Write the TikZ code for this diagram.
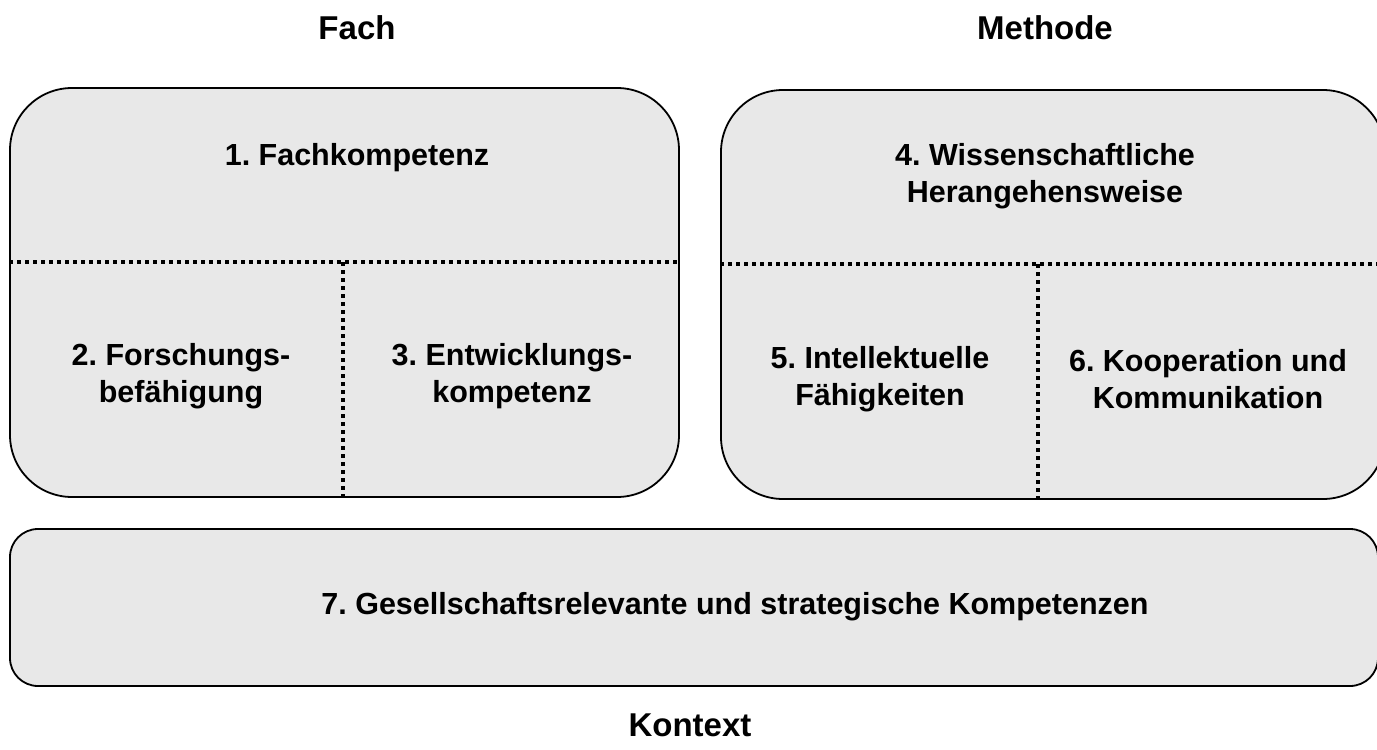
\documentclass[tikz,border=0pt]{standalone}
\usepackage{fontspec}
\setmainfont{Liberation Sans}
\usetikzlibrary{positioning}
\definecolor{boxgray}{HTML}{E8E8E8}
\frenchspacing

\begin{document}
\begin{tikzpicture}[x=1pt,y=-1pt,
      every node/.style={font=\fontsize{30.5}{37}\selectfont\bfseries,align=center},
      area/.style={draw,line width=1.8pt,fill=boxgray,rounded corners=62pt,inner sep=0pt},
      head/.style={font=\fontsize{33}{40}\selectfont\bfseries},
      sep/.style={line width=4pt,dash pattern=on 4pt off 4pt}]
  \useasboundingbox (0,0) rectangle (1377,750);
  \clip (0,0) rectangle (1377,750);

  % the three areas
  \node[area,minimum width=669pt,minimum height=409pt] (fach) at (344.5,292.5) {};
  \node[area,minimum width=664pt,minimum height=409pt] (methode) at (1053,294.5) {};
  \node[area,rounded corners=28pt,minimum width=1368pt,minimum height=157pt] (kontext) at (694,607.5) {};

  % dotted separators
  \draw[sep] (fach.west |- 0,262) -- (fach.east |- 0,262);
  \draw[sep] (343,262) -- (fach.south -| 343,0);
  \draw[sep] (methode.west |- 0,264) -- (methode.east |- 0,264);
  \draw[sep] (1038,264) -- (methode.south -| 1038,0);

  % competences
  \node (k1) at (357,158) {1. Fachkompetenz};
  \node (k2) at (181,376) {2. Forschungs-\\befähigung};
  \node (k3) at (512,376) {3. Entwicklungs-\\kompetenz};
  \node (k4) at (1045,176) {4. Wissenschaftliche\\Herangehensweise};
  \node (k5) at (880,379) {5. Intellektuelle\\Fähigkeiten};
  \node (k6) at (1208,379) {6. Kooperation und\\Kommunikation};
  \node (k7) at (735,607) {7. Gesellschaftsrelevante und strategische Kompetenzen};

  % headings
  \node[head] (hfach) at (357,28) {Fach};
  \node[head] (hmethode) at (1045,28) {Methode};
  \node[head] (hkontext) at (690,725) {Kontext};
\end{tikzpicture}
\end{document}
